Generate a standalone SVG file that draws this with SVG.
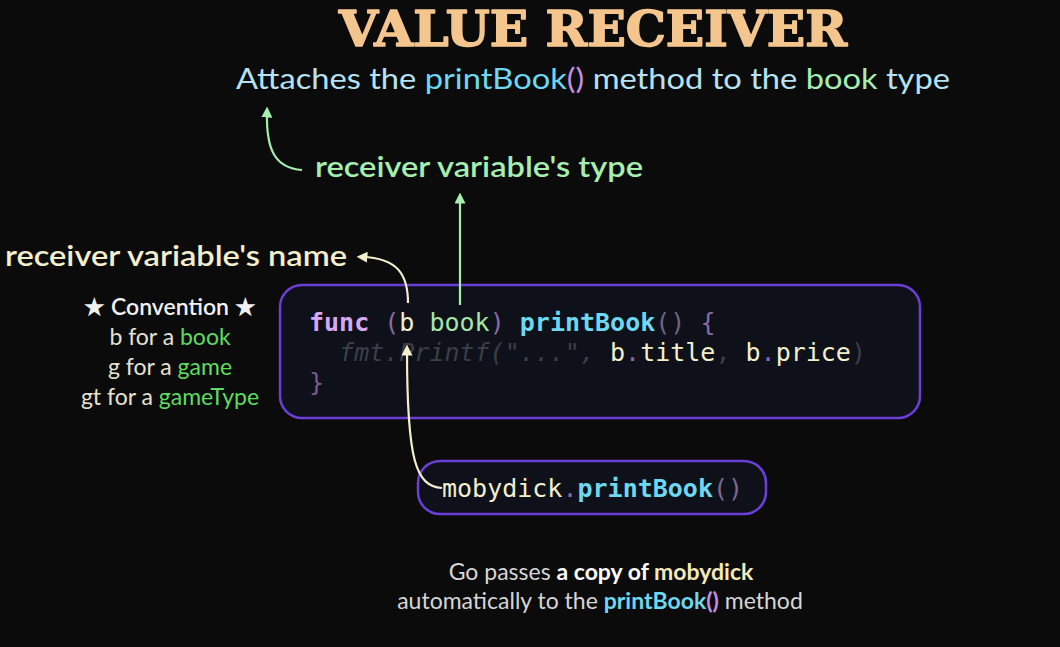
<svg xmlns="http://www.w3.org/2000/svg" width="1060" height="647" viewBox="0 0 1060 647">
<style>
.sans{font-family:Lato,"Noto Sans","Liberation Sans",sans-serif}
.mono{font-family:"DejaVu Sans Mono","Liberation Mono",monospace;font-size:25px}
.box{fill:#0e111a;stroke:#6b3fd6;stroke-width:2.5}
.cream{fill:#f3eecb}
.dim{fill:#3b3e46}
.punc{fill:#8b6aa3}
.cyan{fill:#6dd8ef}
.green{fill:#a6eeb0}
.lime{fill:#5ddc5d}
</style>
<defs>
<marker id="ag" viewBox="0 0 10 10" refX="5" refY="5" markerWidth="5" markerHeight="5" orient="auto-start-reverse"><path d="M0,0L10,5L0,10Z" fill="#a6eeb0"/></marker>
<marker id="ac" viewBox="0 0 10 10" refX="5" refY="5" markerWidth="5" markerHeight="5" orient="auto-start-reverse"><path d="M0,0L10,5L0,10Z" fill="#f3eecb"/></marker>
</defs>
<rect width="1060" height="647" fill="#0b0b0b"/>

<g id="title">
<text x="593" y="46" text-anchor="middle" font-family="'DejaVu Serif','Liberation Serif',serif" font-weight="bold" font-size="48" fill="#f4c68e" stroke="#f4c68e" stroke-width="1.6" stroke-linejoin="round" textLength="508" lengthAdjust="spacingAndGlyphs">VALUE RECEIVER</text>
</g>

<g id="subtitle">
<text x="236" y="89" class="sans" font-size="28" fill="#b6e2f3" textLength="714" lengthAdjust="spacingAndGlyphs">Attaches the <tspan class="cyan">printBook</tspan><tspan fill="#c48fe3">()</tspan> method to the <tspan class="green">book</tspan> type</text>
</g>

<g id="typeLabel">
<text x="315" y="177" class="sans green" font-size="28" font-weight="600" textLength="328" lengthAdjust="spacingAndGlyphs">receiver variable's type</text>
</g>

<g id="nameLabel">
<text x="5" y="266" class="sans cream" font-size="28" font-weight="600" textLength="342" lengthAdjust="spacingAndGlyphs">receiver variable's name</text>
</g>

<g id="convention" class="sans" text-anchor="middle" font-size="23">
<text x="170" y="315" fill="#f0f0f0" font-weight="600">★ Convention ★</text>
<text x="170" y="345" fill="#e6e2d0">b for a <tspan class="lime">book</tspan></text>
<text x="170" y="375" fill="#e6e2d0">g for a <tspan class="lime">game</tspan></text>
<text x="170" y="405" fill="#e6e2d0">gt for a <tspan class="lime">gameType</tspan></text>
</g>

<g id="codeBox">
<rect class="box" x="280" y="285" width="640" height="133" rx="22"/>
<text class="mono" x="309" y="331" xml:space="preserve"><tspan fill="#d7a8f2" font-weight="bold">func</tspan> <tspan class="punc">(</tspan><tspan class="cream">b</tspan> <tspan fill="#a6e6a6">book</tspan><tspan class="punc">)</tspan> <tspan class="cyan" font-weight="bold">printBook</tspan><tspan fill="#6f6580">()</tspan> <tspan class="punc">{</tspan></text>
<text class="mono" x="309" y="361" xml:space="preserve"><tspan class="dim" font-style="italic">  fmt.Printf("...", </tspan><tspan class="cream">b</tspan><tspan class="punc">.</tspan><tspan class="cream">title</tspan><tspan class="dim">, </tspan><tspan class="cream">b</tspan><tspan class="punc">.</tspan><tspan class="cream">price</tspan><tspan class="dim">)</tspan></text>
<text class="mono" x="309" y="391" fill="#7a5a8c">}</text>
</g>

<g id="callBox">
<rect class="box" x="418" y="461" width="348" height="53" rx="22"/>
<text class="mono" x="442" y="497"><tspan class="cream">mobydick</tspan><tspan class="punc">.</tspan><tspan class="cyan" font-weight="bold">printBook</tspan><tspan fill="#7a6a8c">()</tspan></text>
</g>

<g id="note" class="sans" text-anchor="middle" font-size="23">
<text x="601" y="580" fill="#d6d6d6">Go passes <tspan font-weight="bold" fill="#ffffff">a copy of </tspan><tspan font-weight="bold" fill="#f3eab8">mobydick</tspan></text>
<text x="600" y="609" fill="#d6d6d6">automatically to the <tspan font-weight="bold" class="cyan">printBook</tspan><tspan font-weight="bold" fill="#c48fe3">()</tspan> method</text>
</g>

<g id="connectors" fill="none" stroke-width="2.2">
<path d="M302,170 C275,168 266,150 267,112" stroke="#a6eeb0" marker-end="url(#ag)"/>
<path d="M460,305 L460,198" stroke="#a6eeb0" marker-end="url(#ag)"/>
<path d="M408,303 C408,275 398,258 362,257" stroke="#f3eecb" marker-end="url(#ac)"/>
<path d="M442,488 C416,486 407,462 407,350" stroke="#f3eecb" marker-end="url(#ac)"/>
</g>
</svg>
